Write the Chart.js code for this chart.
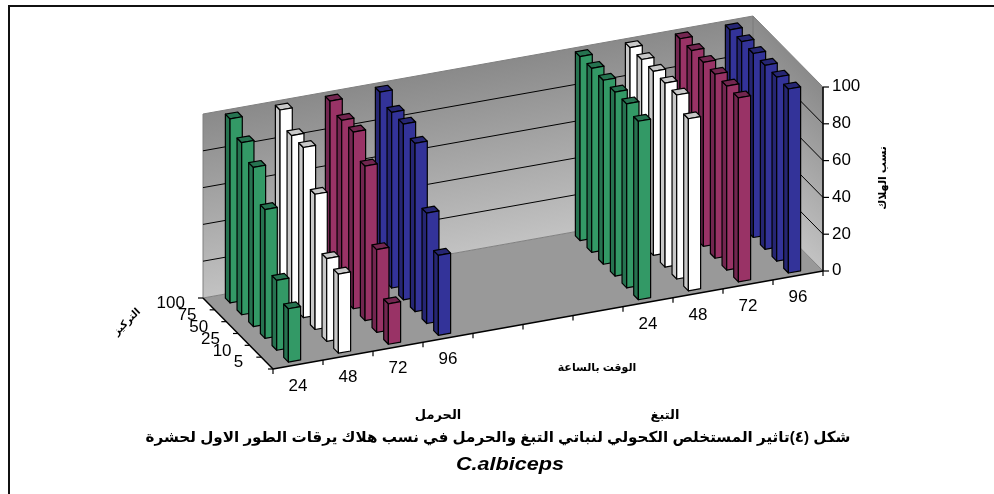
<!DOCTYPE html>
<html>
<head>
<meta charset="utf-8">
<style>
html, body { margin: 0; padding: 0; background: #fff; }
canvas { display: block; }
</style>
<script src="https://cdn.jsdelivr.net/npm/chart.js@4"></script>
</head>
<body>
<canvas id="myChart" width="994" height="494"></canvas>
<script>
const hours = ['24', '48', '72', '96', '', '', '', '24', '48', '72', '96'];
const concentrations = ['5', '10', '25', '50', '75', '100'];
const valueTicks = [0, 20, 40, 60, 80, 100];

const conc5 = [29, 43, 22, 43.5, null, null, null, 97, 93.5, 100, 100];
const conc10 = [38, 45, 45, 60, null, null, null, 100, 100, 100, 100];
const conc25 = [70, 73.5, 84, 91.5, null, null, null, 100, 100, 100, 100];
const conc50 = [86.5, 92.5, 96, 95.5, null, null, null, 100, 100, 100, 100];
const conc75 = [93.5, 92.5, 96, 95.5, null, null, null, 100, 100, 100, 100];
const conc100 = [100, 100, 100, 100, null, null, null, 100, 100, 100, 100];
const rows = [conc5, conc10, conc25, conc50, conc75, conc100];

const frontColors = ['#339966', '#ffffff', '#993366', '#333399', '#000', '#000', '#000', '#339966', '#ffffff', '#993366', '#333399'];
const sideColors = ['#267350', '#c8c8c8', '#732650', '#262673', '#000', '#000', '#000', '#267350', '#c8c8c8', '#732650', '#262673'];

const titleText = 'شكل (٤)تاثير المستخلص الكحولي لنباتي التبغ والحرمل في نسب هلاك يرقات الطور الاول لحشرة';

// oblique view of the box, pixels per full axis
const origin = { x: 273, y: 369 };
const timeVec = { x: 550, y: -98 };
const depthVec = { x: -70, y: -71 };
const valueLen = 184;
const barW = 0.245;   // share of one category
const barD = 0.4;     // share of one depth row

const sans = '"Liberation Sans", "DejaVu Sans", sans-serif';

function project(ft, fd, fv) {
    return {
        x: origin.x + ft * timeVec.x + fd * depthVec.x,
        y: origin.y + ft * timeVec.y + fd * depthVec.y - fv * valueLen
    };
}

function poly(c, pts, fill, stroke, lw) {
    c.beginPath();
    pts.forEach((p, i) => i ? c.lineTo(p.x, p.y) : c.moveTo(p.x, p.y));
    c.closePath();
    if (fill) { c.fillStyle = fill; c.fill(); }
    if (stroke) { c.strokeStyle = stroke; c.lineWidth = lw || 1; c.stroke(); }
}

function line(c, a, b, color, lw) {
    c.beginPath();
    c.moveTo(a.x, a.y);
    c.lineTo(b.x, b.y);
    c.strokeStyle = color;
    c.lineWidth = lw;
    c.stroke();
}

function text(c, str, x, y, font, align, angle, stretch) {
    c.save();
    c.translate(x, y);
    if (angle) c.rotate(angle);
    if (stretch) c.scale(stretch, 1);
    c.font = font;
    c.fillStyle = '#000';
    c.textAlign = align || 'center';
    c.textBaseline = 'middle';
    c.fillText(str, 0, 0);
    c.restore();
}

function wall(c, a, vec) {
    // unit square mapped on the wall so the shading follows it
    c.save();
    c.transform(vec.x, vec.y, 0, -valueLen, a.x, a.y);
    const g = c.createLinearGradient(0, 0, 0, 1);
    g.addColorStop(0, '#c2c2c2');
    g.addColorStop(1, '#8a8a8a');
    c.fillStyle = g;
    c.fillRect(0, 0, 1, 1);
    c.restore();
}

const box3d = {
    id: 'box3d',
    beforeDatasetsDraw(chart) {
        const c = chart.ctx;
        const xs = chart.scales.x, ys = chart.scales.y, ds = chart.scales.depth;
        const tStep = 1 / hours.length, dStep = 1 / concentrations.length;

        // frame, only top and left are in the picture
        line(c, { x: 9, y: 494 }, { x: 9, y: 6 }, '#111', 2);
        line(c, { x: 8, y: 6 }, { x: 994, y: 6 }, '#111', 2);

        // floor and walls
        poly(c, [project(0, 0, 0), project(1, 0, 0), project(1, 1, 0), project(0, 1, 0)], '#999999');
        wall(c, project(0, 1, 0), timeVec);
        wall(c, project(1, 1, 0), { x: -depthVec.x, y: -depthVec.y });
        poly(c, [project(0, 1, 0), project(1, 1, 0), project(1, 1, 1), project(0, 1, 1)], null, '#808080', 1);
        poly(c, [project(1, 1, 0), project(1, 0, 0), project(1, 0, 1), project(1, 1, 1)], null, '#808080', 1);

        // grid
        ys.ticks.forEach(t => {
            const fv = (ys.bottom - ys.getPixelForValue(t.value)) / ys.height;
            if (fv > 0 && fv < 1) {
                line(c, project(0, 1, fv), project(1, 1, fv), '#000', 1);
                line(c, project(1, 1, fv), project(1, 0, fv), '#000', 1);
            }
        });

        // bars, back row first
        for (let r = chart.data.datasets.length - 1; r >= 0; r--) {
            const meta = chart.getDatasetMeta(r);
            const fd = (ds.bottom - ds.getPixelForValue(r)) / ds.height;
            meta.data.forEach((el, i) => {
                if (rows[r][i] === null) return;
                const ft = (el.x - xs.left) / xs.width;
                const fv = (ys.bottom - el.y) / ys.height;
                const t0 = ft - tStep * barW / 2, t1 = ft + tStep * barW / 2;
                const d0 = fd - dStep * barD / 2, d1 = fd + dStep * barD / 2;
                c.lineJoin = 'round';
                poly(c, [project(t0, d0, 0), project(t0, d1, 0), project(t0, d1, fv), project(t0, d0, fv)], sideColors[i], '#000', 1.2);
                poly(c, [project(t0, d0, fv), project(t0, d1, fv), project(t1, d1, fv), project(t1, d0, fv)], sideColors[i], '#000', 1.2);
                poly(c, [project(t0, d0, 0), project(t1, d0, 0), project(t1, d0, fv), project(t0, d0, fv)], frontColors[i], '#000', 1.2);
            });
        }

        // axes
        line(c, project(0, 0, 0), project(1, 0, 0), '#000', 1.5);
        line(c, project(0, 0, 0), project(0, 1, 0), '#000', 1.5);
        line(c, project(1, 0, 0), project(1, 0, 1), '#000', 1.5);

        const tickFont = '16px ' + sans;
        ys.ticks.forEach(t => {
            const fv = (ys.bottom - ys.getPixelForValue(t.value)) / ys.height;
            const p = project(1, 0, fv);
            line(c, p, { x: p.x + 6, y: p.y }, '#000', 1.2);
            text(c, String(t.value), p.x + 9, p.y, tickFont, 'left', 0, 1.06);
        });
        for (let i = 0; i <= hours.length; i++) {
            const p = project(i * tStep, 0, 0);
            line(c, p, { x: p.x, y: p.y + 5 }, '#000', 1.2);
        }
        hours.forEach((h, i) => {
            const f = (xs.getPixelForValue(i) - xs.left) / xs.width;
            const p = project(f, 0, 0);
            text(c, h, p.x, p.y + 22, tickFont, 'center', 0, 1.06);
        });
        for (let i = 0; i <= concentrations.length; i++) {
            const p = project(0, i * dStep, 0);
            line(c, p, { x: p.x - 5, y: p.y }, '#000', 1.2);
        }
        concentrations.forEach((lab, i) => {
            const f = (ds.bottom - ds.getPixelForValue(i)) / ds.height;
            const p = project(0, f, 0);
            text(c, lab, p.x - 24, p.y, tickFont, 'right', 0, 1.06);
        });

        // axis titles and captions
        text(c, 'التركيز', 127, 322, 'bold 10px ' + sans, 'center', -Math.PI / 4);
        text(c, 'نسب الهلاك', 883, 178, 'bold 11px ' + sans, 'center', -Math.PI / 2);
        text(c, 'الوقت بالساعة', 597, 368, 'bold 11px ' + sans);
        text(c, 'الحرمل', 438, 415, 'bold 13px ' + sans);
        text(c, 'التبغ', 665, 415, 'bold 13px ' + sans);
        text(c, titleText, 498, 438, 'bold 15px ' + sans, 'center', 0, 1.01);
        text(c, 'C.albiceps', 510, 465, 'italic bold 18px ' + sans, 'center', 0, 1.2);
        return false;
    }
};

new Chart(document.getElementById('myChart'), {
    type: 'bar',
    data: {
        labels: hours,
        datasets: rows.map((row, i) => ({
            label: concentrations[i],
            data: row,
            grouped: false,
            backgroundColor: frontColors
        }))
    },
    options: {
        responsive: false,
        animation: false,
        layout: { padding: 0 },
        plugins: {
            legend: { display: false },
            tooltip: { enabled: false }
        },
        scales: {
            x: { type: 'category', display: false, offset: true },
            y: { type: 'linear', display: false, min: valueTicks[0], max: valueTicks[valueTicks.length - 1], ticks: { stepSize: valueTicks[1] - valueTicks[0] } },
            depth: { type: 'category', axis: 'y', display: false, offset: true, labels: concentrations, reverse: true }
        }
    },
    plugins: [box3d]
});
</script>
</body>
</html>
